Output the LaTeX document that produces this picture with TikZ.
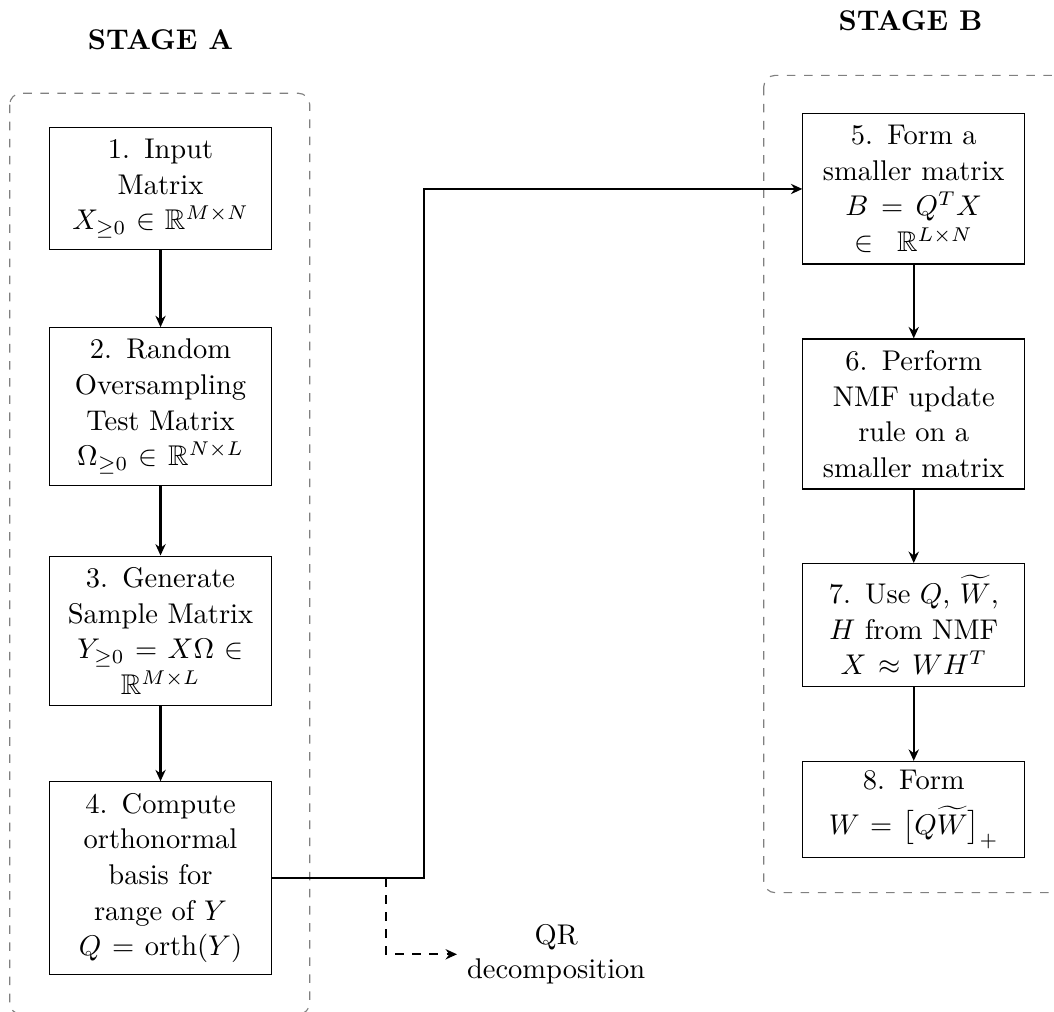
\documentclass[tikz,border=0pt]{standalone}
\usepackage{amsmath}
\usepackage{amssymb}
\usetikzlibrary{arrows.meta, positioning}

\tikzset{
  stepbox/.style={draw, text width=2.5cm, align=center, inner ysep=4pt,
    font=\fontsize{10}{12.5}\selectfont},
  flow/.style={->, thick},
  stageframe/.style={draw=gray, dashed, rounded corners},
}

\begin{document}
\begin{tikzpicture}[>={Stealth[length=4pt, width=3.6pt]}]

\useasboundingbox (0,0) rectangle (13.0,-12.48);

% stage frames and titles
\draw[stageframe] (0.12,-1.15) rectangle (3.82,-12.51);
\draw[stageframe] (9.42,-0.93) rectangle (13.3,-11.01);
\node[font=\bfseries] (stageA) at (1.98,-0.49) {STAGE A};
\node[font=\bfseries] (stageB) at (11.23,-0.26) {STAGE B};

% stage A
\node[stepbox] (input) at (1.98,-2.325) {1. Input\\ Matrix\\ $X_{\geq 0} \in \mathbb{R}^{M\times N}$};
\node[stepbox] (oversample) at (1.98,-5.013) {2. Random\\ Oversampling\\ Test Matrix\\ $\Omega_{\geq 0} \in \mathbb{R}^{N\times L}$};
\node[stepbox] (sample) at (1.98,-7.782) {3. Generate\\ Sample Matrix\\ $Y_{\geq 0} = X\Omega \in$\\ $\mathbb{R}^{M\times L}$};
\node[stepbox] (orth) at (1.98,-10.83) {4. Compute\\ orthonormal\\ basis for\\ range of $Y$\\ $Q = \operatorname{orth}(Y)$};

% stage B
\node[stepbox] (smaller) at (11.27,-2.331) {5. Form a\\ smaller matrix\\ $B = Q^TX$\\ $\in\ \mathbb{R}^{L\times N}$};
\node[stepbox] (nmf) at (11.27,-5.106) {6. Perform\\ NMF update\\ rule on a\\ smaller matrix};
\node[stepbox] (useq) at (11.27,-7.708) {7. Use $Q$, $\widetilde{W}$,\\ $H$ from NMF\\ $X \approx WH^T$};
\node[stepbox, inner ysep=3.2pt] (formw) at (11.27,-9.984) {8. Form\\[3.2pt] $W = \bigl[Q\widetilde{W}\bigr]_+$};

\node[align=center] (qr) at (6.86,-11.77) {QR\\ decomposition};

\draw[flow] (input) -- (oversample);
\draw[flow] (oversample) -- (sample);
\draw[flow] (sample) -- (orth);
\draw[flow] (smaller) -- (nmf);
\draw[flow] (nmf) -- (useq);
\draw[flow] (useq) -- (formw);

% link between the stages
\coordinate (bend) at (5.23,-10.83);
\coordinate (qrsplit) at (4.76,-10.83);
\draw[flow] (orth.east) -- (bend) |- (smaller.west);
\draw[flow, dashed] (qrsplit) |- (qr.west);

\end{tikzpicture}
\end{document}
